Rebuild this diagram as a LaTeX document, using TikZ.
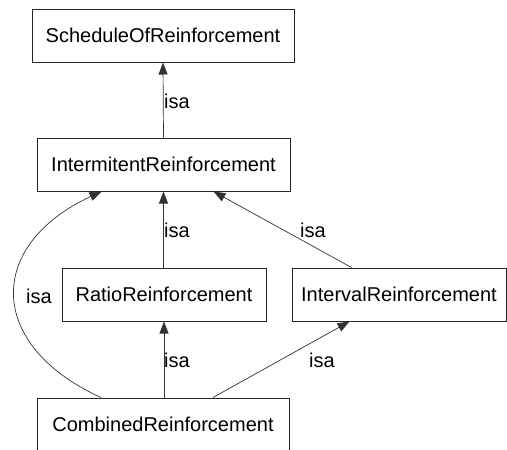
\documentclass[tikz,border=0pt]{standalone}
\usepackage{fontspec}
\setmainfont{Liberation Sans}
\usetikzlibrary{arrows.meta}
\begin{document}
\begin{tikzpicture}[x=1pt,y=-1pt,
  font=\fontsize{20}{24}\selectfont,
  cls/.style={draw=black!85, line width=1pt, inner sep=0pt, minimum height=53pt},
  isa/.style={draw=black!80, line width=0.7pt, -{Triangle[length=12pt,width=9pt]}},
  lbl/.style={inner sep=0pt, anchor=west}]
  \useasboundingbox (0,0) rectangle (507,450);

  % class boxes
  \node[cls, minimum width=262pt] (S) at (163,35.5) {ScheduleOfReinforcement};
  \node[cls, minimum width=253pt] (I) at (163.5,164.5) {IntermitentReinforcement};
  \node[cls, minimum width=204pt] (R) at (164,294.5) {RatioReinforcement};
  \node[cls, minimum width=214pt] (V) at (399,294.5) {IntervalReinforcement};
  \node[cls, minimum width=252pt] (C) at (163,424.5) {CombinedReinforcement};

  % isa relations
  \draw[isa] (I.north) -- (S.south);
  \draw[isa] (R.north -| I.south) -- (I.south);
  \draw[isa] ([xshift=60pt]V.north west) -- ([xshift=50pt]I.south);
  \draw[isa] ([xshift=-62pt]C.north) .. controls (-14,345) and (-14,245) .. ([xshift=-62pt]I.south);
  \draw[isa] (C.north -| R.south) -- (R.south);
  \draw[isa] ([xshift=50pt]C.north) -- ([xshift=58pt]V.south west);

  % relation labels
  \node[lbl] (l1) at (164,101) {isa};
  \node[lbl] (l2) at (164,230) {isa};
  \node[lbl] (l3) at (300,230) {isa};
  \node[lbl] (l4) at (26,296) {isa};
  \node[lbl] (l5) at (164,360) {isa};
  \node[lbl] (l6) at (309,360) {isa};
\end{tikzpicture}
\end{document}
